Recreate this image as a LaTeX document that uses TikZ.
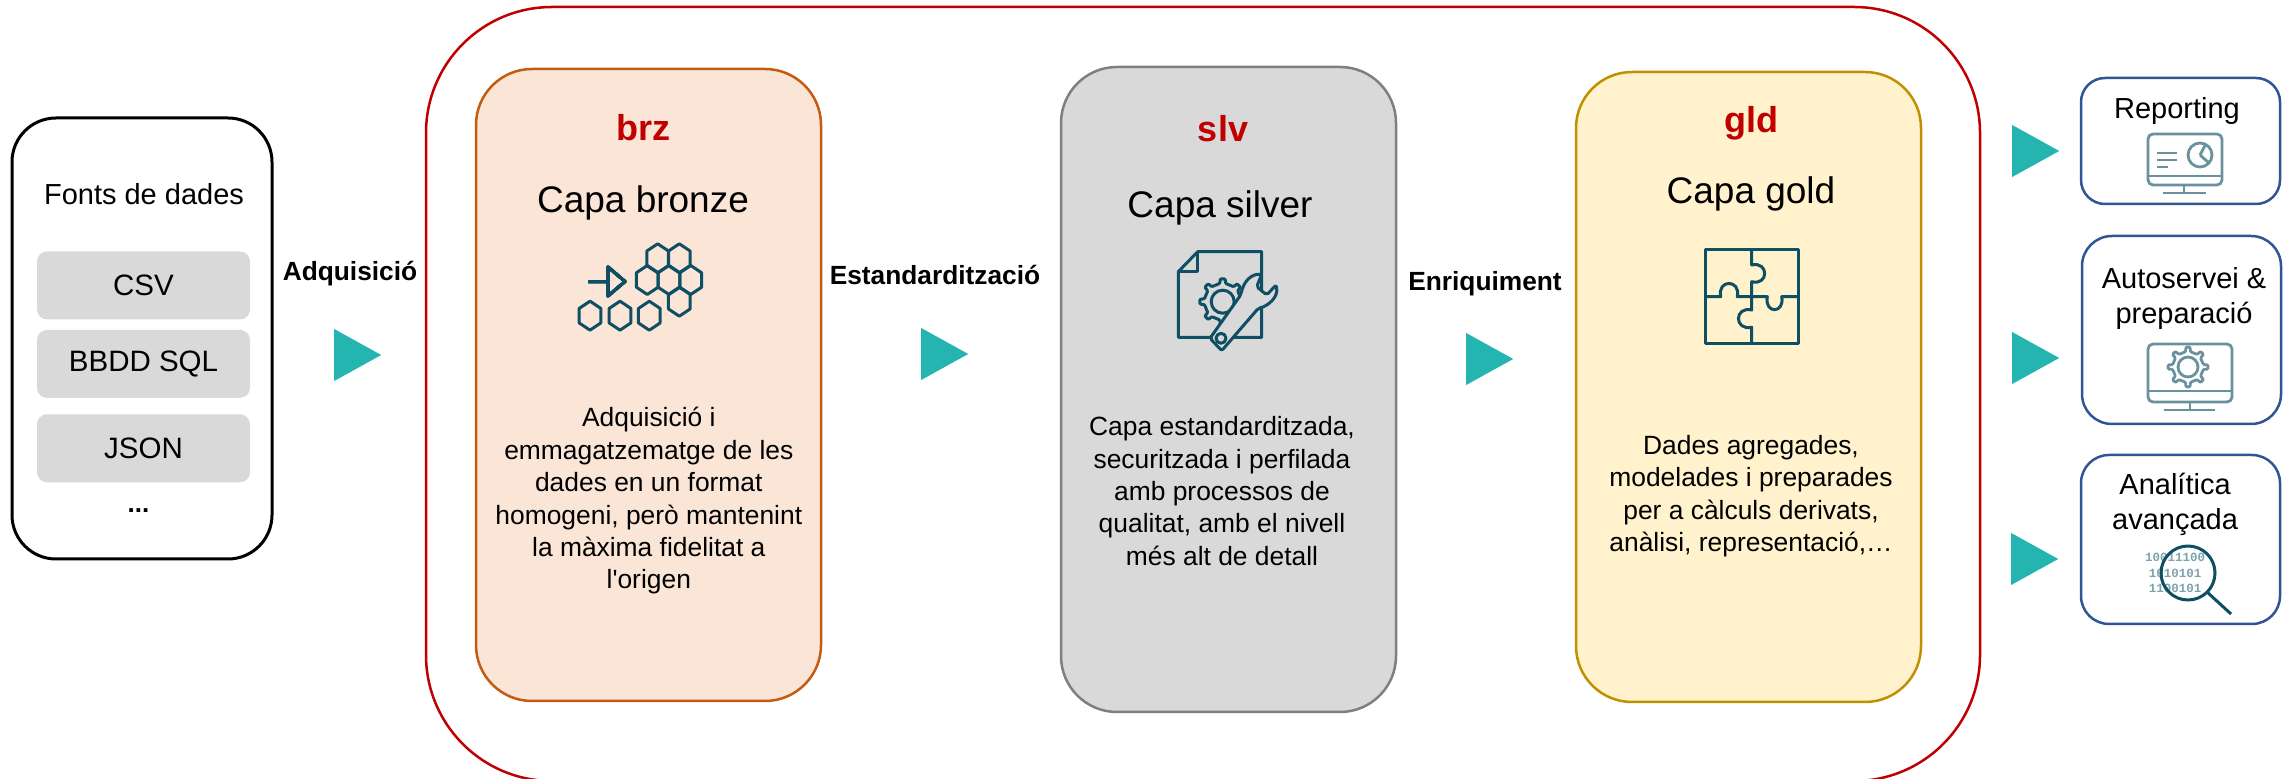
\documentclass[tikz,border=0pt]{standalone}
\usepackage{fontspec}
\setmainfont[Ligatures=TeXOff]{Liberation Sans}
\setmonofont{Liberation Mono}
\usetikzlibrary{
  positioning,
  shapes.geometric
}
\definecolor{redLine}{HTML}{C00000}
\definecolor{tealArrow}{HTML}{25B5B0}
\definecolor{iconDark}{HTML}{0F4F63}
\definecolor{iconLight}{HTML}{6A929E}
\definecolor{bitColor}{HTML}{7FA3AE}
\definecolor{brzFill}{HTML}{FBE5D6}
\definecolor{brzLine}{HTML}{C55A11}
\definecolor{slvFill}{HTML}{D9D9D9}
\definecolor{slvLine}{HTML}{7F7F7F}
\definecolor{gldFill}{HTML}{FFF2CC}
\definecolor{gldLine}{HTML}{BF9000}
\definecolor{useLine}{HTML}{2F5597}

\begin{document}
\begin{tikzpicture}[
    x=1pt,y=1pt,
    layer/.style={
      draw,
      line width=2.5pt,
      rounded corners=56pt,
      inner sep=0pt
    },
    srcitem/.style={
      fill=slvFill,
      rounded corners=10pt,
      minimum width=213pt,
      minimum height=68pt,
      inner sep=0pt,
      font=\fontsize{29.5}{35}\selectfont
    },
    usebox/.style={
      draw=useLine,
      line width=2.5pt,
      fill=white,
      minimum width=199pt,
      inner sep=0pt
    },
    tag/.style={
      text=redLine,
      font=\bfseries\fontsize{36}{40}\selectfont
    },
    title/.style={
      font=\fontsize{37}{42}\selectfont
    },
    body/.style={
      align=center,
      font=\fontsize{26.4}{32.4}\selectfont
    },
    usetext/.style={
      align=center,
      font=\fontsize{29}{35.5}\selectfont
    },
    stage/.style={
      font=\bfseries\fontsize{26.3}{30}\selectfont
    },
    tri/.style={
      isosceles triangle,
      isosceles triangle stretches,
      shape border rotate=0,
      fill=tealArrow,
      minimum width=52pt,
      minimum height=47pt,
      inner sep=0pt,
      anchor=west
    },
    iconline/.style={
      draw=iconDark,
      line width=3pt,
      line join=round
    },
    screenline/.style={
      draw=iconLight,
      line width=2.8pt,
      line join=round
    }
  ]
  \newcommand{\hexCell}[2]{
    \draw[iconline] (#1,#2-14.5) -- (#1+10.85,#2-7.25) -- (#1+10.85,#2+7.25)
      -- (#1,#2+14.5) -- (#1-10.85,#2+7.25) -- (#1-10.85,#2-7.25) -- cycle;
  }
  \newcommand{\gearWheel}[3]{
    \draw[#1, shift={(#2)}, rounded corners=1pt] (-9:#3-4.5)
      \foreach \a in {0,45,...,315} {
        -- (\a-9:#3-4.5) -- (\a-6:#3) -- (\a+6:#3) -- (\a+9:#3-4.5)
      } -- cycle;
  }
  \useasboundingbox (0,0) rectangle (2292,779);

  % Medallion frame
  \node[draw=redLine, line width=2.5pt, rounded corners=126pt, minimum width=1554pt, minimum height=774pt, inner sep=0pt] (frame) at (1203,385) {};

  % Sources
  \node[draw=black, line width=3pt, rounded corners=44pt, minimum width=260pt, minimum height=441pt, inner sep=0pt] (sources) at (142,440.5) {};
  \node[font=\fontsize{29}{35}\selectfont] (sourcestitle) at (144,585) {Fonts de dades};
  \node[srcitem] (csv) at (143.5,493.5) {CSV};
  \node[srcitem, below=10pt of csv] (sql) {BBDD SQL};
  \node[srcitem, below=16pt of sql] (json) {JSON};
  \node[font=\bfseries\fontsize{26}{30}\selectfont, below=23pt of json, xshift=-5pt] (more) {...};

  % Layers
  \node[layer, draw=brzLine, fill=brzFill, minimum width=345pt, minimum height=632pt] (bronze) at (648.5,394) {};
  \node[layer, draw=slvLine, fill=slvFill, minimum width=335pt, minimum height=645pt] (silver) at (1228.5,389.5) {};
  \node[layer, draw=gldLine, fill=gldFill, minimum width=345pt, minimum height=630pt] (gold) at (1748.5,392) {};

  \node[tag] (brz) at (643,651) {brz};
  \node[title] (brztitle) at (643,576) {Capa bronze};
  \node[body] (brzbody) at (648.8,278) {Adquisició i\\emmagatzematge de les\\dades en un format\\homogeni, però mantenint\\la màxima fidelitat a\\l'origen};

  \node[tag] (slv) at (1223,650) {slv};
  \node[title] (slvtitle) at (1220,571) {Capa silver};
  \node[body] (slvbody) at (1222,288) {Capa estandarditzada,\\securitzada i perfilada\\amb processos de\\qualitat, amb el nivell\\més alt de detall};

  \node[tag] (gld) at (1751,656) {gld};
  \node[title] (gldtitle) at (1751,585) {Capa gold};
  \node[body] (gldbody) at (1751,283) {Dades agregades,\\modelades i preparades\\per a càlculs derivats,\\anàlisi, representació,…};

  % Stages
  \node[stage] (acq) at (350,505.5) {Adquisició};
  \node[stage] (std) at (935,504.5) {Estandardització};
  \node[stage] (enr) at (1485,495) {Enriquiment};
  \node[tri] (acqtri) at (334,424) {};
  \node[tri] (stdtri) at (921,425) {};
  \node[tri] (enrtri) at (1466,420) {};
  \node[tri] (reptri) at (2012,628) {};
  \node[tri] (auttri) at (2012,421) {};
  \node[tri] (anatri) at (2011,220) {};

  % Uses
  \node[usebox, rounded corners=24pt, minimum height=126pt] (reporting) at (2180.5,638) {};
  \node[usebox, rounded corners=30pt, minimum height=188pt] (selfservice) at (2181.5,449) {};
  \node[usebox, rounded corners=28pt, minimum height=169pt] (analytics) at (2180.5,239.5) {};
  \node[usetext] (reptext) at (2177,668) {Reporting};
  \node[usetext] (auttext) at (2184,480.5) {Autoservei \&\\preparació};
  \node[usetext] (anatext) at (2175,274.5) {Analítica\\avançada};
  \node[align=center, text=bitColor, font=\ttfamily\bfseries\fontsize{12.5}{15.5}\selectfont] (bits) at (2175,206) {10011100\\1010101\\1100101};

  % Icons, drawn in picture pixels with y going down
  \begin{scope}[yshift=779pt,yscale=-1]
    \foreach \cx/\cy in {590/315.7,620/315.7,649.3/315.7,657.7/258.3,679.3/258.3,647.3/280,669/280,690.7/280,679.3/301.7}
      \hexCell{\cx}{\cy}
    \draw[iconline] (588.3,281.7) -- (608,281.7) (608,267) -- (625,281.5) -- (608,296) -- cycle;

    \draw[iconline] (1197.7,251.7) -- (1261.7,251.7) -- (1261.7,337.3) -- (1178.3,337.3) -- (1178.3,271.7) -- cycle;
    \draw[iconline] (1197.7,251.7) -- (1197.7,271.7) -- (1178.3,271.7);
    \gearWheel{iconline, fill=slvFill}{1222.7,301.7}{23}
    \draw[iconline] (1222.7,301.7) circle (11.5);
    \draw[iconline, fill=slvFill, rounded corners=2pt] (1210,338.3) -- (1221.7,350.7) -- (1258.3,308.3)
      .. controls (1268,306) and (1279,297) .. (1276,285) -- (1266.7,295) -- (1256.7,286.7) -- (1261.7,274.3)
      .. controls (1252,274) and (1244,280) .. (1240.7,295) -- cycle;
    \draw[iconline] (1221,338.3) circle (5);

    \draw[iconline] (1705,250) rectangle (1798.3,344);
    \draw[iconline] (1751.7,250) -- (1751.7,265) .. controls (1769,261) and (1769,286) .. (1751.7,281.7) -- (1751.7,296.7)
      -- (1751.7,310) .. controls (1734,306) and (1734,331) .. (1751.7,327.3) -- (1751.7,344);
    \draw[iconline] (1705,296.7) -- (1720.7,296.7) .. controls (1717,279) and (1741,279) .. (1737.3,296.7) -- (1767.3,296.7)
      .. controls (1764,314) and (1785,314) .. (1781.7,296.7) -- (1798.3,296.7);

    \draw[screenline, rounded corners=5pt] (2148,134) rectangle (2222,185);
    \draw[screenline] (2148,176) -- (2222,176) (2184,185) -- (2184,193) (2163,193) -- (2206,193);
    \draw[screenline] (2157,153) -- (2177,153) (2157,160) -- (2177,160) (2157,167) -- (2168,167);
    \draw[screenline] (2200,155) circle (12) (2200,155) -- (2205,145.5) (2200,155) -- (2209,163);

    \draw[screenline, rounded corners=5pt] (2148,344) rectangle (2232,402);
    \draw[screenline] (2148,391) -- (2232,391) (2190,402) -- (2190,410) (2164,410) -- (2215,410);
    \gearWheel{screenline}{2188,367}{20}
    \draw[screenline] (2188,367) circle (10);

    \draw[iconline] (2188,573) circle (27);
    \draw[iconline] (2207,592) -- (2231,614);
  \end{scope}
\end{tikzpicture}
\end{document}
